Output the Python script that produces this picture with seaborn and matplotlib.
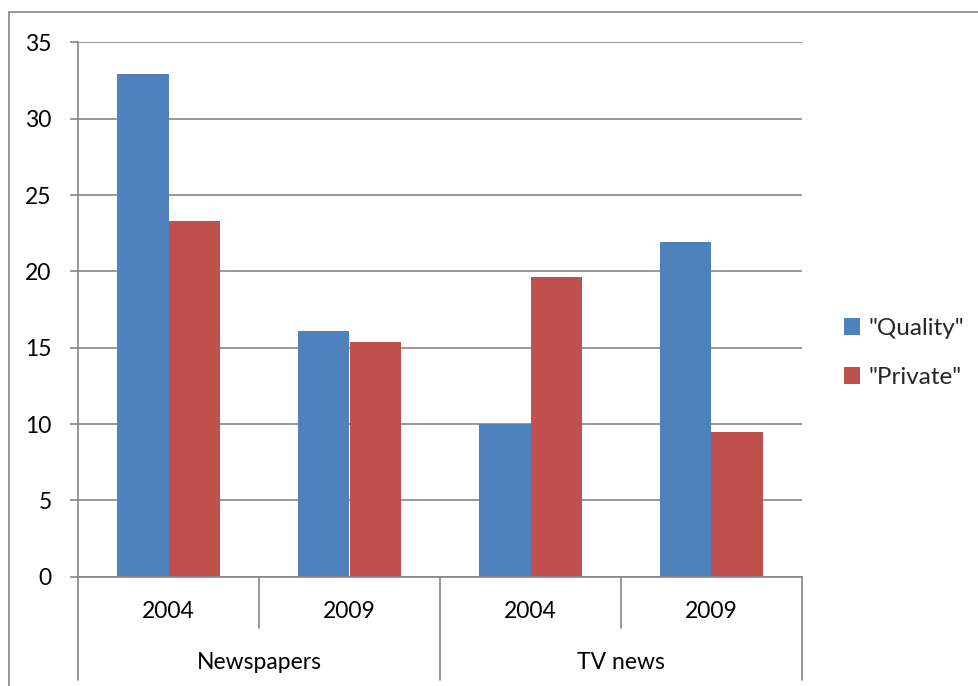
import matplotlib
matplotlib.use("Agg")
import matplotlib.pyplot as plt
from matplotlib.lines import Line2D
import seaborn as sns
import pandas as pd

# Data
groups = ["Newspapers", "Newspapers", "TV news", "TV news"]
years = ["2004", "2009", "2004", "2009"]
series = ['"Quality"', '"Private"']
quality = [32.9, 16.1, 10.0, 21.9]
private = [23.3, 15.4, 19.6, 9.5]
yticks = [0, 5, 10, 15, 20, 25, 30, 35]

slots = [f"{g} {y}" for g, y in zip(groups, years)]
df = pd.DataFrame({
    "slot": slots * 2,
    "series": [series[0]] * 4 + [series[1]] * 4,
    "value": quality + private,
})

sns.set_theme(style="white")
plt.rcParams["font.family"] = ["Lato", "DejaVu Sans"]

GRAY = "#868686"
palette = ["#4F81BD", "#C0504D"]

fig = plt.figure(figsize=(9.79, 6.86), dpi=100)
ax = fig.add_axes([78 / 979, 1 - 576.8 / 686, (802 - 78) / 979, (576.8 - 42.3) / 686])

sns.barplot(data=df, x="slot", y="value", hue="series", order=slots,
            hue_order=series, palette=palette, saturation=1, width=0.571,
            edgecolor="none", ax=ax)

ax.set_xlim(-0.5, 3.5)
ax.set_ylim(0, 35)
ax.set_yticks(yticks)
ax.set_yticklabels([str(t) for t in yticks], fontsize=16.5, color="black")
ax.yaxis.grid(True, color=GRAY, linewidth=1.2)
ax.set_axisbelow(True)
ax.tick_params(axis="y", length=6, width=1.2, color=GRAY, pad=13, left=True)
ax.set_xlabel("")
ax.set_ylabel("")
ax.set_xticks([])

for side in ["top", "right"]:
    ax.spines[side].set_visible(False)
for side in ["left", "bottom"]:
    ax.spines[side].set_color(GRAY)
    ax.spines[side].set_linewidth(1.2)

# Two-level category axis
xt = ax.get_xaxis_transform()
short_y = -0.0958
long_y = -0.193
for i, yr in enumerate(years):
    ax.text(i, -0.064, yr, transform=xt, ha="center", va="center", fontsize=16.5, color="black")
for b in [0.5, 2.5]:
    ax.plot([b, b], [0, short_y], transform=xt, color=GRAY, lw=1.2, clip_on=False)
for b in [-0.5, 1.5, 3.5]:
    ax.plot([b, b], [0, long_y], transform=xt, color=GRAY, lw=1.2, clip_on=False)
group_names = ["Newspapers", "TV news"]
for j, name in enumerate(group_names):
    ax.text(0.5 + 2 * j, -0.161, name, transform=xt, ha="center", va="center", fontsize=16.5, color="black")

# Legend
handles, labels = ax.get_legend_handles_labels()
ax.legend(handles, labels, loc="center left", bbox_to_anchor=(844 / 979, 1 - 353 / 686),
          bbox_transform=fig.transFigure, frameon=False, fontsize=17.5,
          handlelength=0.65, handleheight=0.65, handletextpad=0.35, labelspacing=1.15,
          borderpad=0, borderaxespad=0)

# Chart-area border (top and left edges)
fig.add_artist(Line2D([9 / 979, 1.0], [1 - 12 / 686, 1 - 12 / 686], transform=fig.transFigure,
                      color=GRAY, lw=1.2))
fig.add_artist(Line2D([9 / 979, 9 / 979], [1 - 12 / 686, 0.0], transform=fig.transFigure,
                      color=GRAY, lw=1.2))

fig.savefig("out.png", dpi=100, facecolor="white")
